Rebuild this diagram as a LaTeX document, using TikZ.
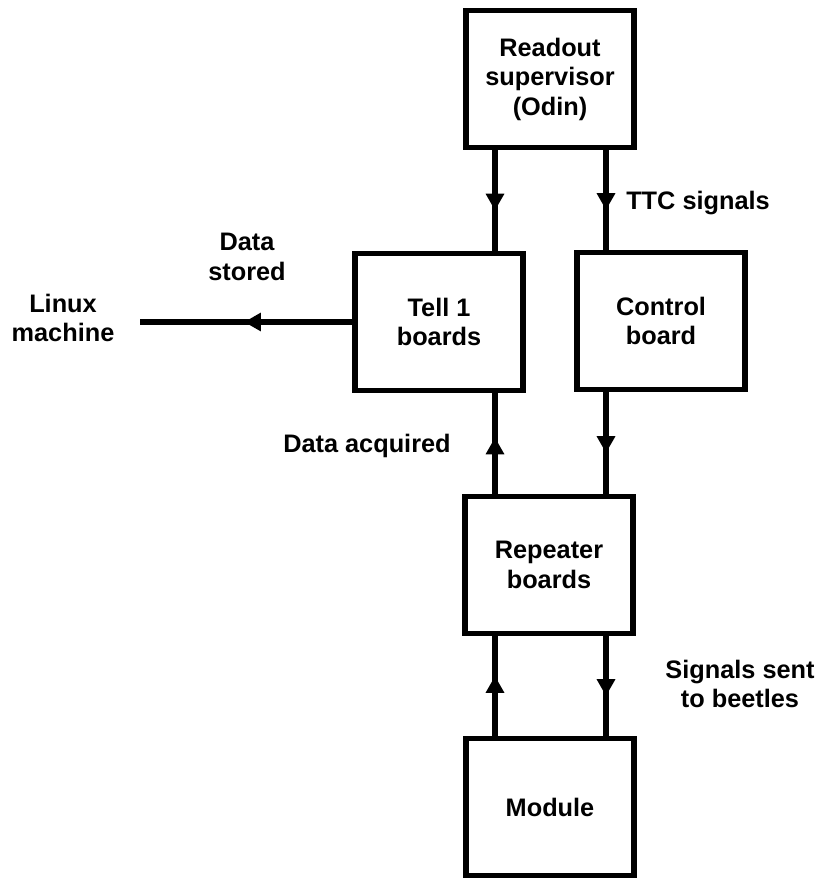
\documentclass[tikz,border=0pt]{standalone}
\usepackage{fontspec}
\setmainfont{Liberation Sans}
\usepackage{tikz}
\usetikzlibrary{arrows.meta,decorations.markings}

\begin{document}
\begin{tikzpicture}[x=0.025cm,y=-0.025cm,line join=miter,
  font=\bfseries\fontsize{18}{21}\selectfont,
  unit/.style={draw,line width=3.8pt,minimum width=4.2cm,minimum height=3.43cm,align=center},
  lbl/.style={align=center,inner sep=0pt},
  flow/.style={line width=3.8pt,postaction={decorate},
    decoration={markings,mark=at position 0.5 with {\pgftransformxshift{#1}\arrow{Triangle[length=0.42cm,width=0.44cm]}}}},
  flow/.default=0.25cm]
  \useasboundingbox (0,0) rectangle (817,880);
  \coordinate (DL) at (495,0);
  \coordinate (SL) at (606,0);
  \node[unit] (odin) at (550,79) {Readout\\supervisor\\(Odin)};
  \node[unit] (tell1) at (439,322) {Tell 1\\boards};
  \node[unit] (ctrl) at (661,321) {Control\\board};
  \node[unit] (rep) at (549,565) {Repeater\\boards};
  \node[unit] (mod) at (550,807) {Module};
  \node[lbl] (linux) at (63,318) {Linux\\machine};
  \coordinate (LE) at (140,322);
  \draw[flow] (odin.south -| DL) -- (tell1.north -| DL);
  \draw[flow] (odin.south -| SL) -- (ctrl.north -| SL);
  \draw[flow=0.05cm] (tell1.west) -- (LE);
  \draw[flow=0.15cm] (rep.north -| DL) -- (tell1.south -| DL);
  \draw[flow] (ctrl.south -| SL) -- (rep.north -| SL);
  \draw[flow] (mod.north -| DL) -- (rep.south -| DL);
  \draw[flow] (rep.south -| SL) -- (mod.north -| SL);
  \node[lbl] (ttc) at (698,203) {TTC signals};
  \node[lbl] (stored) at (247,257) {Data\\stored};
  \node[lbl] (acq) at (367,446) {Data acquired};
  \node[lbl] (beet) at (740,684) {Signals sent\\to beetles};
\end{tikzpicture}
\end{document}
